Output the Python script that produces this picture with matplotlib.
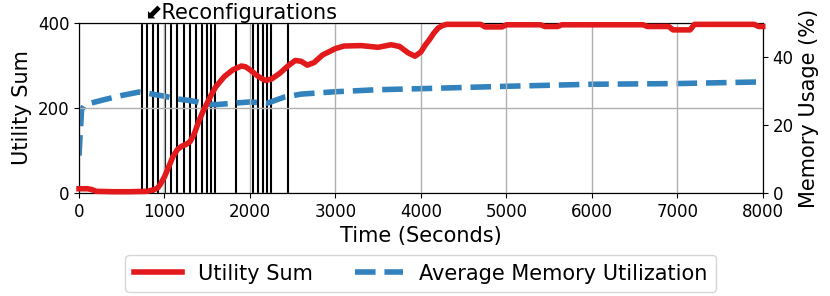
import matplotlib
matplotlib.use("Agg")
import matplotlib.pyplot as plt
import matplotlib.transforms as mtransforms

# Utility sum (left axis)
util_t = [0, 100, 150, 200, 400, 600, 800, 880, 920, 950, 1000, 1050, 1100, 1150,
          1200, 1250, 1300, 1350, 1400, 1450, 1500, 1550, 1600, 1700, 1800, 1900,
          1950, 2000, 2100, 2180, 2250, 2350, 2450, 2530, 2600, 2670, 2750, 2850,
          3000, 3100, 3300, 3500, 3650, 3750, 3850, 3930, 4000, 4050, 4100, 4150,
          4200, 4250, 4300, 4700, 4750, 4950, 5000, 5400, 5450, 5600, 5650, 6600,
          6650, 6900, 6950, 7150, 7200, 7900, 7950, 8000]
util_v = [10, 10, 8, 4, 3, 3, 4, 8, 12, 20, 38, 62, 86, 102,
          110, 114, 121, 140, 168, 192, 212, 232, 250, 274, 290, 299,
          297, 290, 274, 265, 268, 282, 300, 312, 310, 301, 307, 325,
          340, 346, 347, 343, 349, 345, 330, 322, 332, 348, 361, 376,
          388, 394, 397, 397, 391, 391, 396, 396, 392, 392, 396, 396,
          392, 392, 384, 384, 397, 397, 392, 392]

# Average memory utilization (right axis, %)
mem_t = [0, 15, 30, 60, 100, 300, 500, 700, 800, 900, 1000, 1100, 1200, 1300,
         1400, 1500, 1600, 1800, 2000, 2200, 2400, 2600, 3000, 3500, 4000, 5000,
         6000, 7000, 8000]
mem_v = [11, 18, 24.5, 25.7, 26.2, 27.5, 28.7, 29.7, 29.4, 28.9, 28.5, 27.9, 27.5, 27.2,
         26.7, 26.2, 26.0, 26.4, 26.8, 26.4, 28.2, 29.1, 29.8, 30.4, 30.7, 31.4,
         32.0, 32.2, 32.7]

# Reconfiguration times
reconf = [733, 799, 862, 924, 1002, 1072, 1150, 1228, 1298, 1368, 1435, 1494,
          1544, 1594, 1836, 2031, 2097, 2149, 2195, 2242, 2448]

fig, ax1 = plt.subplots(figsize=(8.3, 2.96), dpi=100)
fig.subplots_adjust(left=0.0952, right=0.919, top=0.922, bottom=0.348)
ax2 = ax1.twinx()
ax1.set_zorder(ax2.get_zorder() + 1)
ax1.patch.set_visible(False)

for t in reconf:
    ax2.axvline(t, color="black", linewidth=1.5, zorder=1)

l2, = ax2.plot(mem_t, mem_v, color="#3182bd", linestyle="--", linewidth=4,
               label="Average Memory Utilization", zorder=2)
l1, = ax1.plot(util_t, util_v, color="#e31a1c", linewidth=4, label="Utility Sum",
               zorder=3, clip_on=False)

ax1.set_xlim(0, 8000)
ax1.set_ylim(0, 400)
ax1.set_yticks([0, 200, 400])
ax2.set_ylim(0, 50)
ax2.set_yticks([0, 20, 40])
ax1.grid(True, color="#b0b0b0", linewidth=1)

ax1.tick_params(labelsize=12)
ax2.tick_params(labelsize=12)
ax1.set_xlabel("Time (Seconds)", fontsize=15)
ax1.set_ylabel("Utility Sum", fontsize=15)
ax2.set_ylabel("Memory Usage (%)", fontsize=15)

trans = mtransforms.blended_transform_factory(ax1.transData, ax1.transAxes)
ax1.text(760, 1.0, "\u2b0bReconfigurations", transform=trans, fontsize=15,
         ha="left", va="bottom")

fig.legend(handles=[l1, l2], loc="center", bbox_to_anchor=(0.507, 0.076), ncol=2,
           fontsize=15, handlelength=2.3, borderaxespad=0)

fig.savefig("out.png", dpi=100)
